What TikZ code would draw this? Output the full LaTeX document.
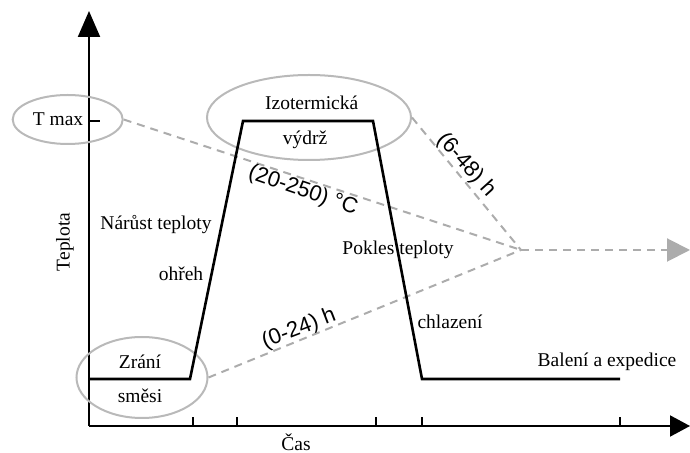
\documentclass[tikz,border=0pt]{standalone}
\usepackage{fontspec}
\setmainfont{Liberation Serif}
\setsansfont{Liberation Sans}
\usetikzlibrary{arrows.meta,shapes.geometric}

\definecolor{ringgray}{RGB}{185,185,185}
\definecolor{dashgray}{RGB}{172,172,172}

\tikzset{
  txt/.style={inner sep=0pt, font=\fontsize{9.75}{11}\selectfont},
  hint/.style={inner sep=0pt, font=\sffamily\fontsize{11}{12}\selectfont},
  ring/.style={ellipse, draw=ringgray, line width=1pt, inner sep=0pt},
  guide/.style={draw=dashgray, line width=1pt, dash pattern=on 4pt off 3pt},
  axis/.style={line width=1pt, -{Triangle[length=10pt,width=10.5pt]}},
  profile/.style={line width=1.3pt, line join=miter},
}

\begin{document}
\begin{tikzpicture}[x=0.5pt,y=-0.5pt]
\useasboundingbox (0,0) rectangle (690,453);

% axes
\coordinate (o) at (89,426);
\coordinate (ytop) at (89,11);
\coordinate (xend) at (690,426);
\draw[axis, -{Triangle[length=13pt,width=11pt]}] (o) -- (ytop);
\draw[axis] (o) -- (xend);
\foreach \t in {193,237,376,422,620}
  \draw[line width=1pt] (\t,426) -- (\t,417);
\draw[line width=1pt] (89,121) -- (100,121);
\node[txt, rotate=90] (ylab) at (65,242) {Teplota};
\node[txt] (xlab) at (296,442) {Čas};

% highlighted spots
\node[ring, minimum width=55pt, minimum height=24.5pt] (tmaxring) at (67.7,119.5) {};
\node[ring, minimum width=102pt, minimum height=42.5pt] (isoring) at (309,117.5) {};
\node[ring, minimum width=65.5pt, minimum height=40.5pt] (zrring) at (142,377.5) {};

% guides to the hub
\coordinate (hub) at (521,250);
\coordinate (out) at (690,250);
\draw[guide] (tmaxring.east) -- (hub);
\draw[guide] (isoring.east) -- (hub);
\draw[guide] (zrring.east) -- (hub);
\draw[guide, -{Triangle[length=11.5pt,width=11.5pt]}] (hub) -- (out);
\node[hint, rotate=-19] (tlab) at (303,191) {(20-250) °C};
\node[hint, rotate=-48] (hlab1) at (466.5,165) {(6-48) h};
\node[hint, rotate=21] (hlab2) at (299,329) {(0-24) h};

% temperature profile
\coordinate (p0) at (89,379);
\coordinate (p1) at (190,379);
\coordinate (p2) at (243,121);
\coordinate (p3) at (373,121);
\coordinate (p4) at (422,379);
\coordinate (p5) at (620,379);
\draw[profile] (p0) -- (p1) -- (p2) -- (p3) -- (p4) -- (p5);

\node[txt] (tmax) at (58,119.5) {T max};
\node[txt] (iso1) at (311.7,103) {Izotermická};
\node[txt] (iso2) at (305,140) {výdrž};
\node[txt] (zr1) at (140,362) {Zrání};
\node[txt] (zr2) at (140,396) {směsi};
\node[txt] (heat1) at (156,225) {Nárůst teploty};
\node[txt] (heat2) at (181,274) {ohřeh};
\node[txt] (cool1) at (398,250) {Pokles teploty};
\node[txt] (cool2) at (450,322) {chlazení};
\node[txt] (pack) at (607,362) {Balení a expedice};
\end{tikzpicture}
\end{document}
